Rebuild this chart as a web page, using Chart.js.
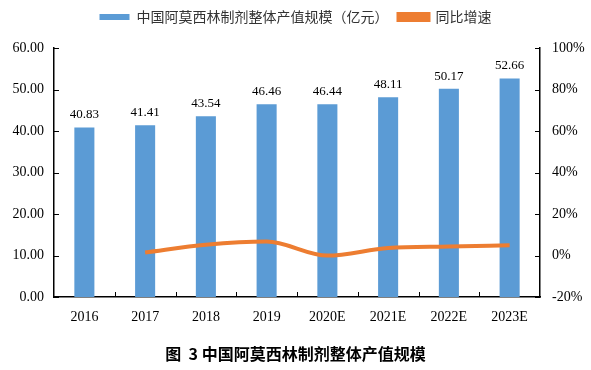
<!DOCTYPE html>
<html>
<head>
<meta charset="utf-8">
<script src="https://cdn.jsdelivr.net/npm/chart.js@4"></script>
<style>
  html, body { margin: 0; padding: 0; background: #fff; }
</style>
</head>
<body>
<canvas id="myChart" width="591" height="370"></canvas>
<script>
// categories and series
var years = ["2016", "2017", "2018", "2019", "2020E", "2021E", "2022E", "2023E"];
var output = [40.83, 41.41, 43.54, 46.46, 46.44, 48.11, 50.17, 52.66];
var growth = [null, 1.42, 5.14, 6.71, -0.04, 3.60, 4.28, 4.96];

var serif = "'Liberation Serif', 'Times New Roman', serif";
var cjk = "'Noto Sans CJK SC', sans-serif";

// inward tick marks and bar value labels
var extras = {
    id: 'extras',
    afterDatasetsDraw: function(chart) {
        var c = chart.ctx, a = chart.chartArea;
        var y = chart.scales.y, y1 = chart.scales.y1, x = chart.scales.x;
        c.save();
        c.strokeStyle = '#000';
        c.lineWidth = 1;
        c.beginPath();
        y.ticks.forEach(function(t) {
            var p = Math.round(y.getPixelForValue(t.value)) + 0.5;
            c.moveTo(a.left, p); c.lineTo(a.left + 5, p);
        });
        y1.ticks.forEach(function(t) {
            var p = Math.round(y1.getPixelForValue(t.value)) + 0.5;
            c.moveTo(a.right, p); c.lineTo(a.right - 5, p);
        });
        for (var i = 1; i < years.length; i++) {
            var px = Math.round((x.getPixelForValue(i - 1) + x.getPixelForValue(i)) / 2) + 0.5;
            c.moveTo(px, a.bottom); c.lineTo(px, a.bottom - 5);
        }
        c.stroke();

        var meta = chart.getDatasetMeta(0);
        c.fillStyle = '#000';
        c.font = '13px ' + serif;
        c.textAlign = 'center';
        c.textBaseline = 'bottom';
        meta.data.forEach(function(bar, i) {
            c.fillText(output[i].toFixed(2), bar.x, bar.y - 6);
        });
        c.restore();
    }
};

// extra room under the legend
var legendGap = {
    id: 'legendGap',
    beforeInit: function(chart) {
        var fit = chart.legend.fit;
        chart.legend.fit = function() {
            fit.bind(chart.legend)();
            this.height += 14;
        };
    }
};

var ctx = document.getElementById('myChart').getContext('2d');
var chart = new Chart(ctx, {
    type: 'bar',
    data: {
        labels: years,
        datasets: [{
            label: '中国阿莫西林制剂整体产值规模（亿元）',
            data: output,
            backgroundColor: '#5B9BD5',
            barPercentage: 0.33,
            categoryPercentage: 1,
            yAxisID: 'y',
            order: 2
        },
        {
            type: 'line',
            label: '同比增速',
            data: growth,
            borderColor: '#ED7D31',
            backgroundColor: '#ED7D31',
            borderWidth: 4,
            pointRadius: 0,
            cubicInterpolationMode: 'monotone',
            yAxisID: 'y1',
            order: 1
        }]
    },
    options: {
        responsive: false,
        animation: false,
        layout: { padding: { top: 0, bottom: 6, left: 0, right: 0 } },
        plugins: {
            legend: {
                position: 'top',
                labels: {
                    sort: function(a, b) { return a.datasetIndex - b.datasetIndex; },
                    font: { family: cjk, size: 14 },
                    color: '#333',
                    boxWidth: 30,
                    boxHeight: 6,
                    padding: 10
                }
            },
            title: {
                display: true,
                position: 'bottom',
                text: '图  3 中国阿莫西林制剂整体产值规模',
                font: { family: cjk, size: 16, weight: 'bold' },
                color: '#000',
                padding: { top: 7, bottom: 0 }
            },
            tooltip: { enabled: false }
        },
        scales: {
            x: {
                grid: { display: false, drawTicks: false },
                border: { color: '#000', width: 1.5 },
                ticks: { font: { family: serif, size: 14 }, color: '#000', padding: 12 }
            },
            y: {
                position: 'left',
                min: 0, max: 60,
                afterFit: function(s) { s.width = 54; },
                grid: { display: false, drawTicks: false },
                border: { color: '#000', width: 1.5 },
                ticks: {
                    stepSize: 10,
                    font: { family: serif, size: 14 }, color: '#000', padding: 10,
                    callback: function(v) { return v.toFixed(2); }
                }
            },
            y1: {
                position: 'right',
                min: -20, max: 100,
                afterFit: function(s) { s.width = 51; },
                grid: { display: false, drawTicks: false },
                border: { color: '#000', width: 1.5 },
                ticks: {
                    stepSize: 20,
                    font: { family: serif, size: 14 }, color: '#000', padding: 12,
                    callback: function(v) { return v + '%'; }
                }
            }
        }
    },
    plugins: [extras, legendGap]
});
</script>
</body>
</html>
